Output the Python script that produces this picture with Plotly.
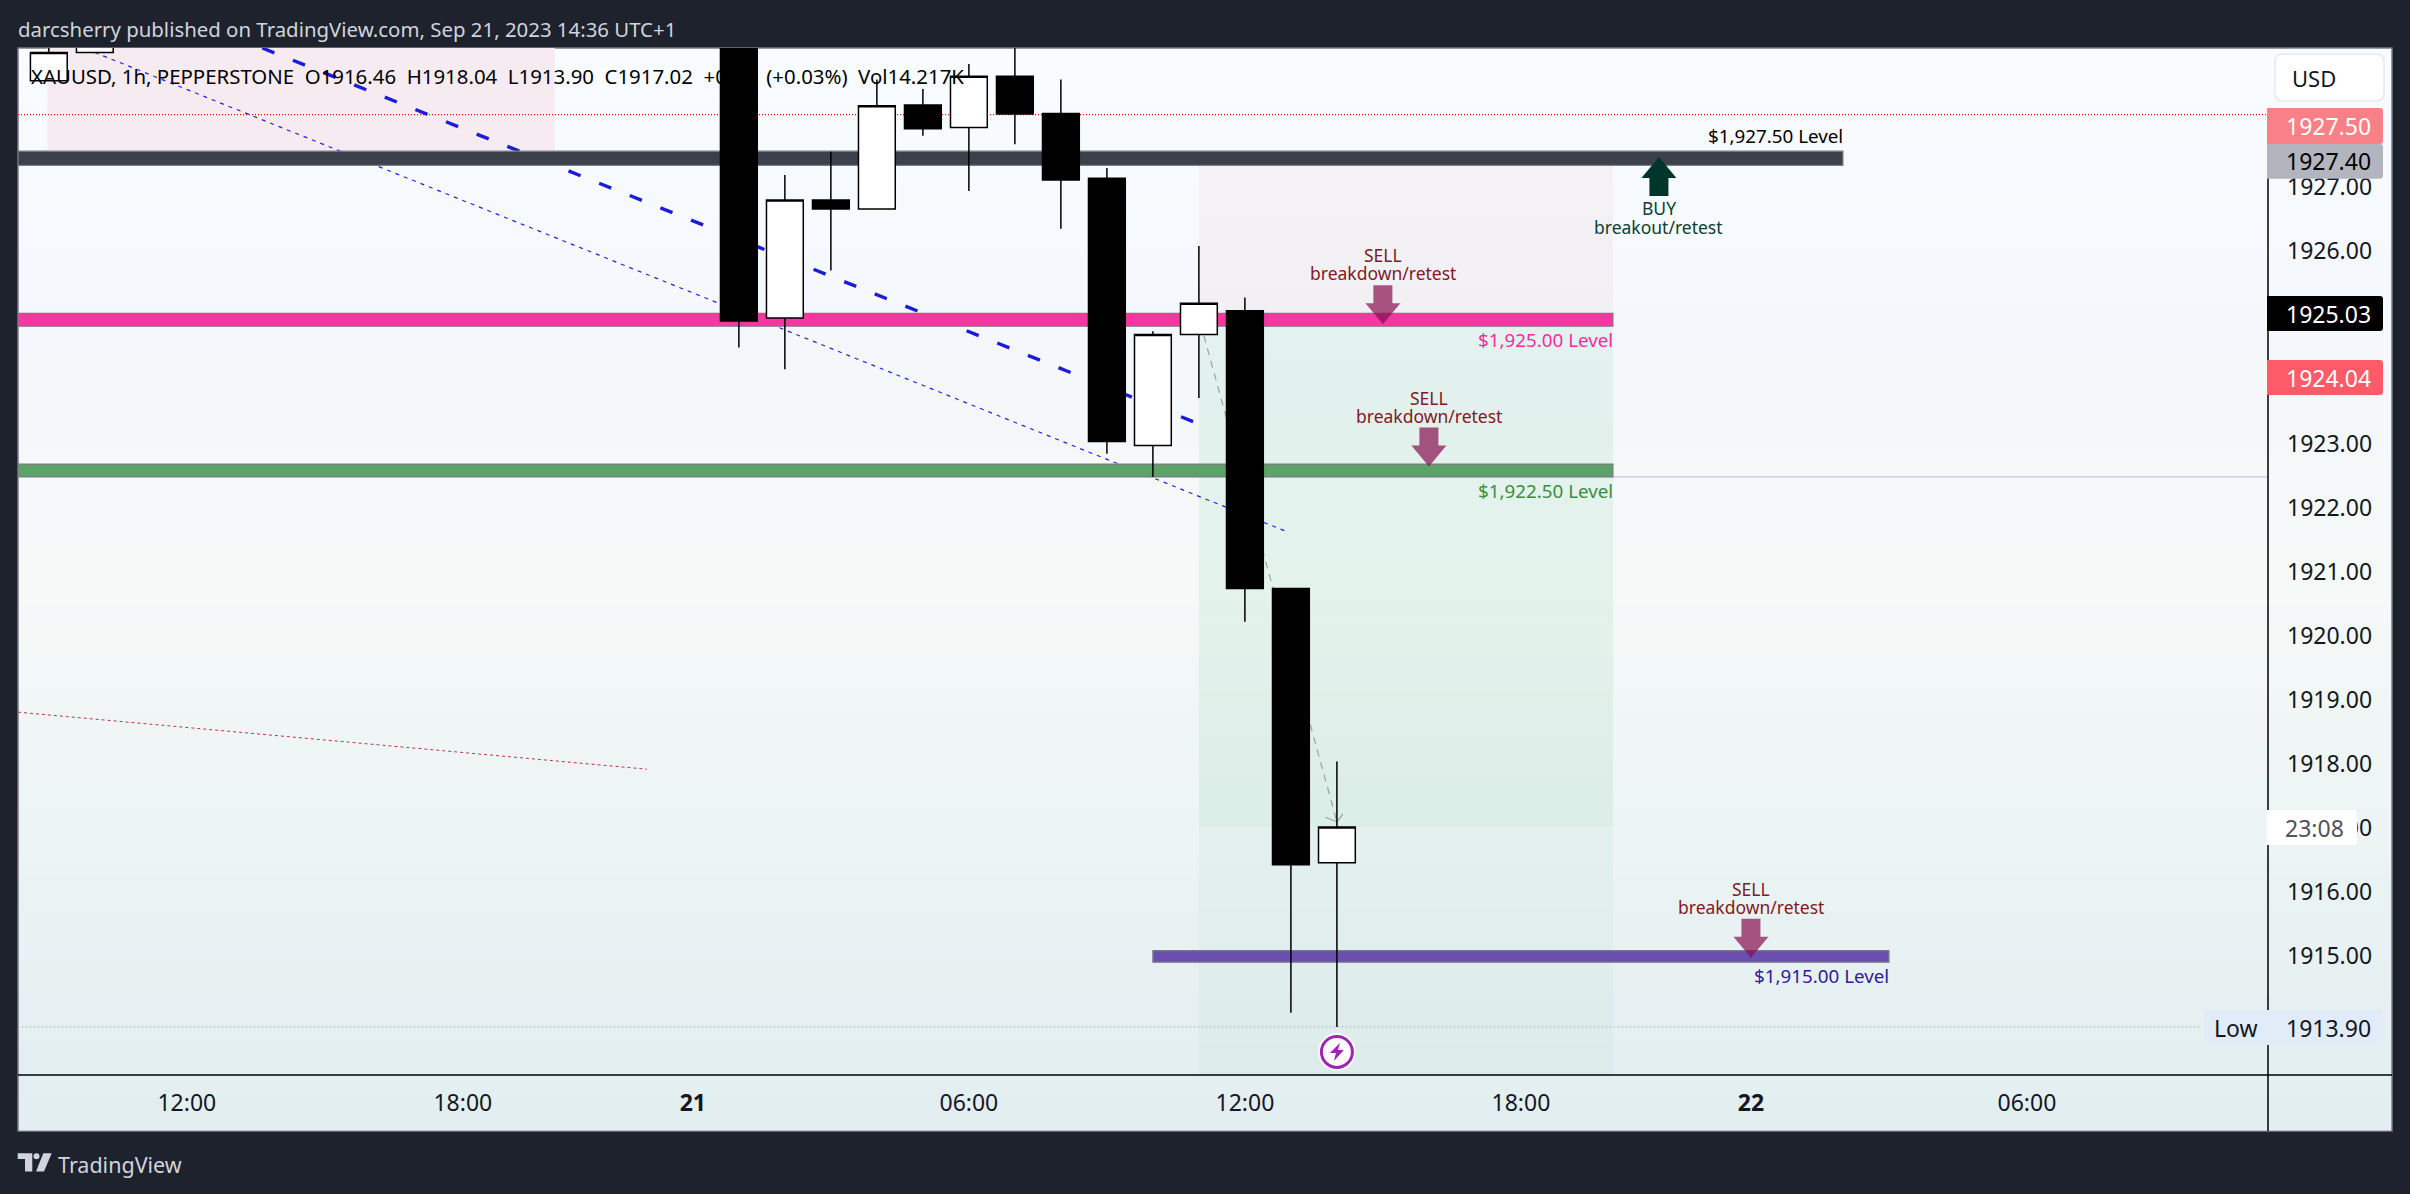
import plotly.graph_objects as go

W, H = 2410, 1194
FONT = "Noto Sans"
DARK = "#1e222d"

# hourly bars, x is the bar number counted from Sep 21 00:00 (gap for the closed hour)
bar_x = [-14, -13, 1, 2, 3, 4, 5, 6, 7, 8, 9, 10, 11, 12, 13, 14]
bar_open = [1928.66, 1929.10, 1931.00, 1924.96, 1926.80, 1926.66, 1928.28, 1927.93, 1928.73, 1928.15, 1927.14, 1922.97, 1924.70, 1925.07, 1920.74, 1916.46]
bar_high = [1929.50, 1929.80, 1931.50, 1927.19, 1927.55, 1928.68, 1928.53, 1928.92, 1929.60, 1928.68, 1927.30, 1924.75, 1926.08, 1925.28, 1920.74, 1918.04]
bar_low = [1928.66, 1929.10, 1924.50, 1924.16, 1925.70, 1926.66, 1927.80, 1926.94, 1927.67, 1926.35, 1922.84, 1922.48, 1923.71, 1920.22, 1914.12, 1913.90]
bar_close = [1929.10, 1929.60, 1924.91, 1926.80, 1926.66, 1928.27, 1927.91, 1928.73, 1928.14, 1927.11, 1923.03, 1924.70, 1925.19, 1920.74, 1916.43, 1917.02]

# axes
time_ticks = [-11, -5, 0, 6, 12, 18, 23, 29]
time_labels = ["12:00", "18:00", "<b>21</b>", "06:00", "12:00", "18:00", "<b>22</b>", "06:00"]
price_ticks = [1915, 1916, 1917, 1918, 1919, 1920, 1921, 1922, 1923, 1924, 1925, 1926, 1927, 1928]
price_labels = ["%.2f" % p for p in price_ticks]
x_range = [-14.67, 34.24]
y_range = [1913.15, 1929.17]

# drawn levels: bottom, top, first bar, last bar
level_bottom = [1927.34, 1924.83, 1922.48, 1914.91]
level_top = [1927.56, 1925.03, 1922.68, 1915.09]
level_start = [x_range[0], x_range[0], x_range[0], 10]
level_end = [25, 20, 20, 26]
level_names = ["$1,927.50 Level", "$1,925.00 Level", "$1,922.50 Level", "$1,915.00 Level"]
level_colors = ["#3c404b", "#f537a2", "#5ba366", "#6b4fb0"]
label_colors = ["#000000", "#f72ca0", "#388e3c", "#311b92"]

# trend lines: start bar, start price, end bar, end price
thick_trend = [-9.36, 1929.17, 10.88, 1923.34]
thin_trend = [-13, 1929.10, 12.93, 1921.62]
red_trend = [-14.67, 1918.81, -1.0, 1917.92]
path_line = [11.11, 1924.68, 14, 1917.1]

# arrows: bar, price at the tip
sell_bars = [15, 16, 23]
sell_tips = [1924.86, 1922.64, 1914.98]
buy_bar = 21
buy_tip = 1927.47

# zones
zone_top_left = [-14.03, -3, 1927.58, y_range[1]]
zone_red = [11, 20, 1925.0, 1927.34]
zone_green = [11, 20, 1917.02, 1925.0]
zone_low = [11, 20, y_range[0], 1917.02]

ceiling_line = 1928.13
low_line = 1913.90

# price scale tags
tag_text = ["1927.50", "1927.40", "1925.03", "1924.04"]
tag_fill = ["#f98087", "#b2b5be", "#000000", "#fc5b67"]
tag_font = ["#ffffff", "#000000", "#ffffff", "#ffffff"]
tag_top = [108, 144, 296, 360]
tag_bottom = [144, 178.7, 331, 395]

legend_text = "XAUUSD, 1h, PEPPERSTONE  O1916.46  H1918.04  L1913.90  C1917.02  +0.56  (+0.03%)  Vol14.217K"
title_text = "darcsherry published on TradingView.com, Sep 21, 2023 14:36 UTC+1"


def fx(x):
    return x / W


def fy(y):
    return 1 - y / H


def rounded(x0, y0, x1, y1, r=3, left=False):
    # rectangle in screen pixels with rounded right corners (left ones too if asked)
    lr = r if left else 0
    return (
        f"M {fx(x0 + lr)} {fy(y0)} L {fx(x1 - r)} {fy(y0)} Q {fx(x1)} {fy(y0)} {fx(x1)} {fy(y0 + r)} "
        f"L {fx(x1)} {fy(y1 - r)} Q {fx(x1)} {fy(y1)} {fx(x1 - r)} {fy(y1)} L {fx(x0 + lr)} {fy(y1)} "
        f"Q {fx(x0)} {fy(y1)} {fx(x0)} {fy(y1 - lr)} L {fx(x0)} {fy(y0 + lr)} Q {fx(x0)} {fy(y0)} {fx(x0 + lr)} {fy(y0)} Z"
    )


shapes = []
notes = []


def text(x, y, s, color, size, anchor="left", xref="paper", yref="paper", yshift=0):
    notes.append(dict(x=x, y=y, text=s, xref=xref, yref=yref, xanchor=anchor, yanchor="middle",
                      showarrow=False, borderpad=0, borderwidth=0, yshift=yshift,
                      font=dict(family=FONT, size=size, color=color)))


def paper_rect(x0, y0, x1, y1, fill, line=None, layer="above"):
    shapes.append(dict(type="rect", xref="paper", yref="paper", x0=fx(x0), x1=fx(x1), y0=fy(y0), y1=fy(y1),
                       fillcolor=fill, line=dict(width=1.5 if line else 0, color=line or fill), layer=layer))


def trend(pts, color, width, dash):
    shapes.append(dict(type="line", xref="x", yref="y", x0=pts[0], y0=pts[1], x1=pts[2], y1=pts[3],
                       line=dict(color=color, width=width, dash=dash), layer="between"))


def zone(z, fill):
    shapes.append(dict(type="rect", xref="x", yref="y", x0=z[0], x1=z[1], y0=z[2], y1=z[3],
                       fillcolor=fill, line_width=0, layer="below"))


def pixel_path(bar, price, path, fill, opacity=1.0):
    shapes.append(dict(type="path", xref="x", yref="y", xsizemode="pixel", ysizemode="pixel",
                       xanchor=bar, yanchor=price, path=path, fillcolor=fill, opacity=opacity,
                       line_width=0, layer="above"))


def pixel_circle(bar, price, r, fill, line=None):
    shapes.append(dict(type="circle", xref="x", yref="y", xsizemode="pixel", ysizemode="pixel",
                       xanchor=bar, yanchor=price, x0=-r, x1=r, y0=-r, y1=r, fillcolor=fill,
                       line=dict(width=3 if line else 0, color=line or fill), layer="above"))


# background: dark page, then the light vertical wash of the chart card
paper_rect(18, 48, 2392, 1131, "#f5f9fb", line="#787b86", layer="below")
stops = [(0.0, (249, 252, 255)), (0.25, (244, 248, 252)), (0.5, (245, 249, 248)), (1.0, (226, 238, 240))]
strips = 64
for k in range(strips):
    t = k / (strips - 1)
    for (a, ca), (b, cb) in zip(stops, stops[1:]):
        if a <= t <= b:
            u = (t - a) / (b - a)
            c = [round(ca[j] + (cb[j] - ca[j]) * u) for j in range(3)]
            break
    y0 = 49 + (1130 - 49) * k / strips
    y1 = 49 + (1130 - 49) * (k + 1) / strips
    shapes.append(dict(type="rect", xref="paper", yref="paper", x0=fx(19), x1=fx(2391), y0=fy(y0), y1=fy(y1 + 0.5),
                       fillcolor="rgb(%d,%d,%d)" % tuple(c), line_width=0, layer="below"))

zone(zone_top_left, "#f5ebf0")
zone(zone_red, "rgba(200,50,60,0.04)")
zone(zone_green, "rgba(60,175,110,0.09)")
zone(zone_low, "rgba(40,160,90,0.04)")

# thin guide lines
trend([x_range[0], ceiling_line, x_range[1], ceiling_line], "#ff0000", 1.2, "1px,2px")
trend([x_range[0], low_line, 32.8, low_line], "#8a8e98", 1, "1px,3px")
trend([20, level_bottom[2], x_range[1], level_bottom[2]], "#c5c3dc", 1.2, "solid")

trend(thick_trend, "#1c1cd6", 3.4, "13px,20px")
trend(thin_trend, "#2222dd", 1.2, "4px,5px")
trend(red_trend, "#b03a4a", 1, "3px,3px")
trend(path_line, "#9aa0a0", 1.2, "7px,6px")
trend([13.75, 1917.17, 14, 1917.1], "#9aa0a0", 1.2, "solid")
trend([14.13, 1917.22, 14, 1917.1], "#9aa0a0", 1.2, "solid")

# level bands and their names
for b, t, s, e, n, col, lc in zip(level_bottom, level_top, level_start, level_end, level_names, level_colors, label_colors):
    shapes.append(dict(type="rect", xref="x", yref="y", x0=s, x1=e, y0=b, y1=t, fillcolor=col,
                       line=dict(color="#787b86", width=1.2), layer="between"))
    if n == level_names[0]:
        text(e, t, n, lc, 18.8, "right", "x", "y", yshift=15)
    else:
        text(e, b, n, lc, 18.8, "right", "x", "y", yshift=-14)

# arrows and their captions
down = "M -9.5 39 L 9.5 39 L 9.5 21 L 17.5 21 L 0 0 L -17.5 21 L -9.5 21 Z"
up = "M -9.5 -39 L 9.5 -39 L 9.5 -21 L 17.5 -21 L 0 0 L -17.5 -21 L -9.5 -21 Z"
for bar, tip in zip(sell_bars, sell_tips):
    pixel_path(bar, tip, down, "#880e4f", 0.7)
    text(bar, tip, "SELL", "#801922", 17.5, "center", "x", "y", yshift=69)
    text(bar, tip, "breakdown/retest", "#801922", 17.5, "center", "x", "y", yshift=51)
pixel_path(buy_bar, buy_tip, up, "#00352b")
text(buy_bar, buy_tip, "BUY", "#0c3f36", 17.5, "center", "x", "y", yshift=-51)
text(buy_bar, buy_tip, "breakout/retest", "#0c3f36", 17.5, "center", "x", "y", yshift=-70)

# last bar marker
marker_price = y_range[0] + 0.36
pixel_circle(14, marker_price, 18.7, "#ffffff")
pixel_circle(14, marker_price, 15.5, "#ffffff", line="#9c27b0")
pixel_path(14, marker_price, "M 3 9 L -7 -1 L -1 -1 L -3 -9 L 7 2 L 1 2 Z", "#9c27b0")

# axis rules
shapes.append(dict(type="line", xref="paper", yref="paper", x0=fx(18), x1=fx(2392), y0=fy(1075), y1=fy(1075),
                   line=dict(color="#000000", width=1.5), layer="above"))
shapes.append(dict(type="line", xref="paper", yref="paper", x0=fx(2268), x1=fx(2268), y0=fy(170), y1=fy(1131),
                   line=dict(color="#000000", width=1.5), layer="above"))

# price scale furniture
shapes.append(dict(type="path", xref="paper", yref="paper", path=rounded(2275, 54, 2384, 101, 8, left=True),
                   fillcolor="#ffffff", line=dict(color="#e6e9f2", width=1.5), layer="above"))
text(fx(2292), fy(78), "USD", "#131722", 22)
for t, f, c, y0, y1 in zip(tag_text, tag_fill, tag_font, tag_top, tag_bottom):
    shapes.append(dict(type="path", xref="paper", yref="paper", path=rounded(2267, y0, 2383, y1), fillcolor=f, line_width=0, layer="above"))
    text(fx(2286), fy((y0 + y1) / 2), t, c, 23)

shapes.append(dict(type="path", xref="paper", yref="paper", path=rounded(2267, 810, 2357, 845), fillcolor="#ffffff", line_width=0, layer="above"))
text(fx(2285), fy(827.5), "23:08", "#50535e", 23)
shapes.append(dict(type="path", xref="paper", yref="paper", path=rounded(2204, 1010, 2383, 1045, 3, left=True), fillcolor="#e1ecf8", line_width=0, layer="above"))
text(fx(2214), fy(1027.5), "Low", "#131722", 23)
text(fx(2286), fy(1027.5), "1913.90", "#131722", 23)

# header, legend, footer
text(fx(18), fy(29), title_text, "#d1d4dc", 20.4)
text(fx(31), fy(76), legend_text, "#000000", 20.4)
text(fx(58), fy(1164), "TradingView", "#d1d4dc", 21.5)
logo = [
    f"M {fx(17.7)} {fy(1153.3)} L {fx(32.3)} {fy(1153.3)} L {fx(32.3)} {fy(1171.5)} L {fx(25)} {fy(1171.5)} L {fx(25)} {fy(1159)} L {fx(17.7)} {fy(1159)} Z",
    f"M {fx(43.3)} {fy(1153.3)} L {fx(51.7)} {fy(1153.3)} L {fx(44)} {fy(1171.5)} L {fx(36)} {fy(1171.5)} Z",
]
for p in logo:
    shapes.append(dict(type="path", xref="paper", yref="paper", path=p, fillcolor="#d1d4dc", line_width=0, layer="above"))
shapes.append(dict(type="circle", xref="paper", yref="paper", x0=fx(33.5), x1=fx(39.5), y0=fy(1153.3), y1=fy(1159.3),
                   fillcolor="#d1d4dc", line_width=0, layer="above"))

fig = go.Figure(go.Candlestick(
    x=bar_x, open=bar_open, high=bar_high, low=bar_low, close=bar_close,
    increasing=dict(fillcolor="#ffffff", line=dict(color="#000000", width=1.5)),
    decreasing=dict(fillcolor="#000000", line=dict(color="#000000", width=1.5)),
    whiskerwidth=0, hoverinfo="skip",
))

fig.update_layout(
    width=W, height=H, margin=dict(l=0, r=0, t=0, b=0, pad=0),
    paper_bgcolor=DARK, plot_bgcolor="rgba(0,0,0,0)",
    showlegend=False, boxgap=0.2, boxgroupgap=0, shapes=shapes, annotations=notes,
    font=dict(family=FONT, size=23, color="#131722"),
    xaxis=dict(domain=[fx(18), fx(2268)], range=x_range, type="linear", rangeslider=dict(visible=False),
               tickvals=time_ticks, ticktext=time_labels, showgrid=False, zeroline=False, showline=False,
               ticks="", ticklabelstandoff=12, tickfont=dict(family=FONT, size=23, color="#131722")),
    yaxis=dict(domain=[fy(1075), fy(48)], range=y_range, side="right", tickvals=price_ticks, ticktext=price_labels,
               showgrid=False, zeroline=False, showline=False, ticks="", ticklabelstandoff=18,
               tickfont=dict(family=FONT, size=23, color="#131722")),
)

# the browser's default page margin would push the chart off the window
fig.write_html("out.html", config=dict(displayModeBar=False),
               post_script="document.body.style.margin='0';document.body.style.background='%s';" % DARK)
